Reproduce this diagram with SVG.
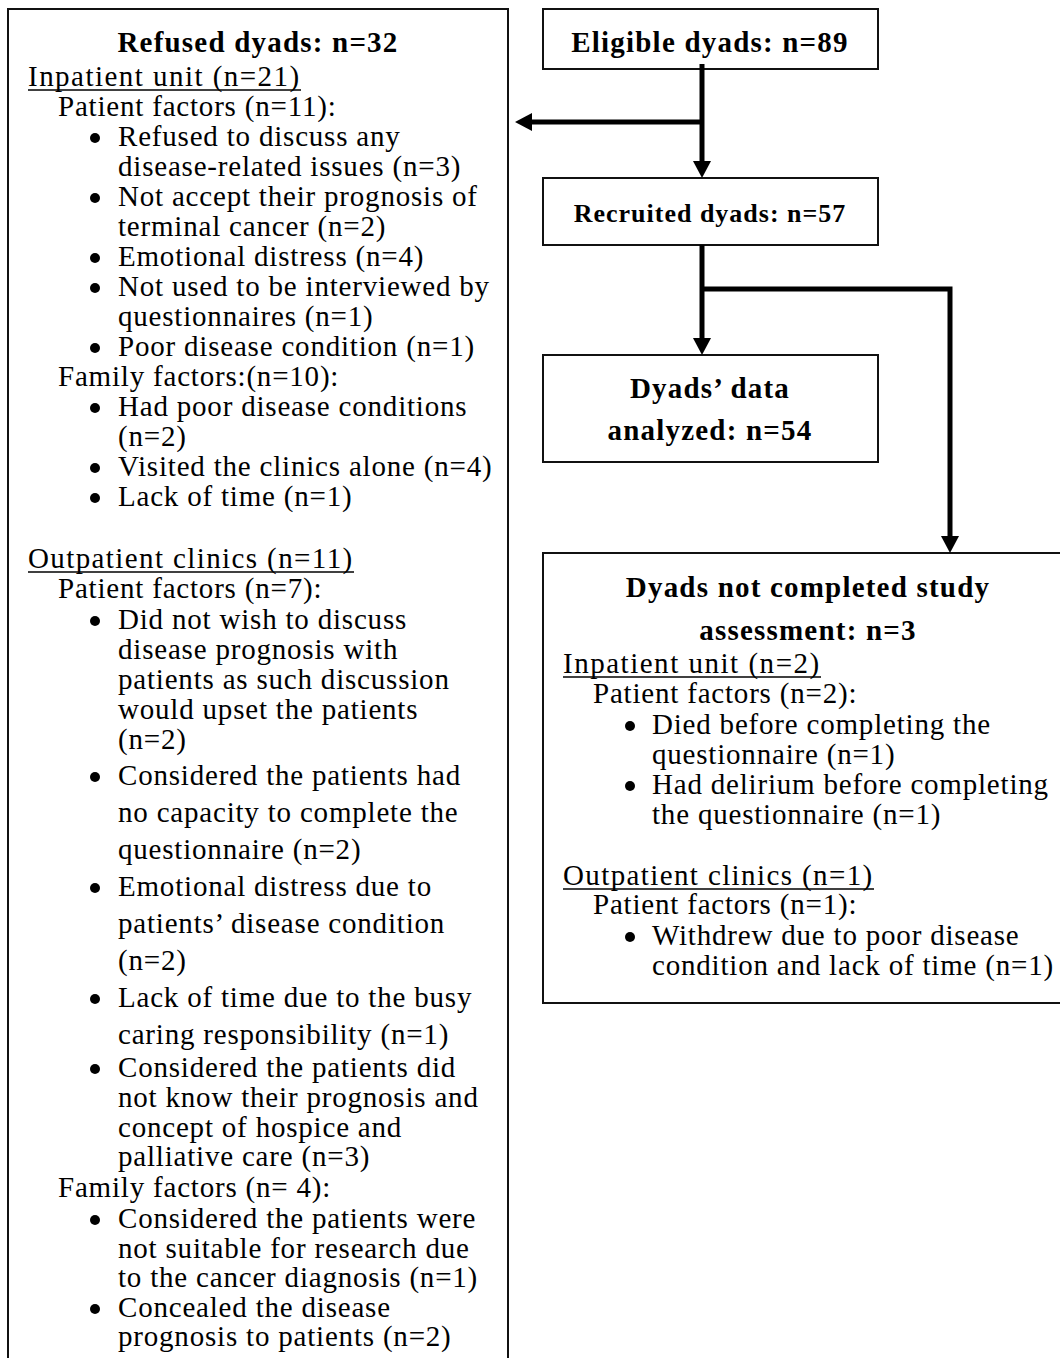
<svg xmlns="http://www.w3.org/2000/svg" width="1060" height="1358" viewBox="0 0 1060 1358">
<style>
.box{fill:#fff;stroke:#111;stroke-width:2}
.t{font-family:"Liberation Serif","Times New Roman",serif;font-size:29px;letter-spacing:0.8px;fill:#000}
.b{font-family:"Liberation Serif","Times New Roman",serif;font-size:29px;font-weight:bold;letter-spacing:1.2px;fill:#000;text-anchor:middle}
.ul{stroke:#000;stroke-width:1.6}
.bul{fill:#000}
.conn{fill:none;stroke:#000;stroke-width:5}
</style>
<defs>
<marker id="ah" markerUnits="userSpaceOnUse" markerWidth="17" markerHeight="18" refX="0" refY="9" orient="auto">
<path d="M0,0 L17,9 L0,18 z" fill="#000"/>
</marker>
</defs>
<rect width="1060" height="1358" fill="#fff"/>

<g id="refused">
<rect class="box" x="8" y="9" width="500" height="1380"/>
<text class="b" x="258" y="52">Refused dyads: n=32</text>
<text class="t" x="28" y="86" textLength="272" lengthAdjust="spacing">Inpatient unit (n=21)</text>
<line class="ul" x1="28" y1="90" x2="301" y2="90"/>
<text class="t" x="58" y="116">Patient factors (n=11):</text>
<circle class="bul" cx="95" cy="138" r="5"/>
<text class="t" x="118" y="146">Refused to discuss any</text>
<text class="t" x="118" y="176">disease-related issues (n=3)</text>
<circle class="bul" cx="95" cy="198" r="5"/>
<text class="t" x="118" y="206">Not accept their prognosis of</text>
<text class="t" x="118" y="236">terminal cancer (n=2)</text>
<circle class="bul" cx="95" cy="258" r="5"/>
<text class="t" x="118" y="266">Emotional distress (n=4)</text>
<circle class="bul" cx="95" cy="288" r="5"/>
<text class="t" x="118" y="296">Not used to be interviewed by</text>
<text class="t" x="118" y="326">questionnaires (n=1)</text>
<circle class="bul" cx="95" cy="348" r="5"/>
<text class="t" x="118" y="356">Poor disease condition (n=1)</text>
<text class="t" x="58" y="386">Family factors:(n=10):</text>
<circle class="bul" cx="95" cy="408" r="5"/>
<text class="t" x="118" y="416">Had poor disease conditions</text>
<text class="t" x="118" y="446">(n=2)</text>
<circle class="bul" cx="95" cy="468" r="5"/>
<text class="t" x="118" y="476">Visited the clinics alone (n=4)</text>
<circle class="bul" cx="95" cy="498" r="5"/>
<text class="t" x="118" y="506">Lack of time (n=1)</text>
<text class="t" x="28" y="568" textLength="325" lengthAdjust="spacing">Outpatient clinics (n=11)</text>
<line class="ul" x1="28" y1="572" x2="354" y2="572"/>
<text class="t" x="58" y="598">Patient factors (n=7):</text>
<circle class="bul" cx="95" cy="621" r="5"/>
<text class="t" x="118" y="629">Did not wish to discuss</text>
<text class="t" x="118" y="659">disease prognosis with</text>
<text class="t" x="118" y="689">patients as such discussion</text>
<text class="t" x="118" y="719">would upset the patients</text>
<text class="t" x="118" y="749">(n=2)</text>
<circle class="bul" cx="95" cy="777" r="5"/>
<text class="t" x="118" y="785">Considered the patients had</text>
<text class="t" x="118" y="822">no capacity to complete the</text>
<text class="t" x="118" y="859">questionnaire (n=2)</text>
<circle class="bul" cx="95" cy="888" r="5"/>
<text class="t" x="118" y="896">Emotional distress due to</text>
<text class="t" x="118" y="933">patients’ disease condition</text>
<text class="t" x="118" y="970">(n=2)</text>
<circle class="bul" cx="95" cy="999" r="5"/>
<text class="t" x="118" y="1007">Lack of time due to the busy</text>
<text class="t" x="118" y="1044">caring responsibility (n=1)</text>
<circle class="bul" cx="95" cy="1069" r="5"/>
<text class="t" x="118" y="1077">Considered the patients did</text>
<text class="t" x="118" y="1107">not know their prognosis and</text>
<text class="t" x="118" y="1137">concept of hospice and</text>
<text class="t" x="118" y="1166">palliative care (n=3)</text>
<text class="t" x="58" y="1197">Family factors (n= 4):</text>
<circle class="bul" cx="95" cy="1220" r="5"/>
<text class="t" x="118" y="1228">Considered the patients were</text>
<text class="t" x="118" y="1258">not suitable for research due</text>
<text class="t" x="118" y="1287">to the cancer diagnosis (n=1)</text>
<circle class="bul" cx="95" cy="1309" r="5"/>
<text class="t" x="118" y="1317">Concealed the disease</text>
<text class="t" x="118" y="1346">prognosis to patients (n=2)</text>
</g>

<g id="eligible">
<rect class="box" x="543" y="9" width="335" height="60"/>
<text class="b" x="710" y="52">Eligible dyads: n=89</text>
</g>

<g id="recruited">
<rect class="box" x="543" y="178" width="335" height="67"/>
<text class="b" x="710" y="222" style="font-size:26px;letter-spacing:1px">Recruited dyads: n=57</text>
</g>

<g id="analyzed">
<rect class="box" x="543" y="355" width="335" height="107"/>
<text class="b" x="710" y="398">Dyads’ data</text>
<text class="b" x="710" y="440">analyzed: n=54</text>
</g>

<g id="not-completed">
<rect class="box" x="543" y="553" width="540" height="450"/>
<text class="b" x="808" y="597">Dyads not completed study</text>
<text class="b" x="808" y="640">assessment: n=3</text>
<text class="t" x="563" y="673" textLength="257" lengthAdjust="spacing">Inpatient unit (n=2)</text>
<line class="ul" x1="563" y1="677" x2="821" y2="677"/>
<text class="t" x="593" y="703">Patient factors (n=2):</text>
<circle class="bul" cx="630" cy="726" r="5"/>
<text class="t" x="652" y="734">Died before completing the</text>
<text class="t" x="652" y="764">questionnaire (n=1)</text>
<circle class="bul" cx="630" cy="786" r="5"/>
<text class="t" x="652" y="794">Had delirium before completing</text>
<text class="t" x="652" y="824">the questionnaire (n=1)</text>
<text class="t" x="563" y="885" textLength="310" lengthAdjust="spacing">Outpatient clinics (n=1)</text>
<line class="ul" x1="563" y1="889" x2="874" y2="889"/>
<text class="t" x="593" y="914">Patient factors (n=1):</text>
<circle class="bul" cx="630" cy="937" r="5"/>
<text class="t" x="652" y="945">Withdrew due to poor disease</text>
<text class="t" x="652" y="975">condition and lack of time (n=1)</text>
</g>

<g id="connectors">
<path class="conn" d="M702,64 V161" marker-end="url(#ah)"/>
<path class="conn" d="M702,122 H532" marker-end="url(#ah)"/>
<path class="conn" d="M702,245 V338" marker-end="url(#ah)"/>
<path class="conn" d="M700,289 H950 V536" marker-end="url(#ah)"/>
</g>
</svg>
